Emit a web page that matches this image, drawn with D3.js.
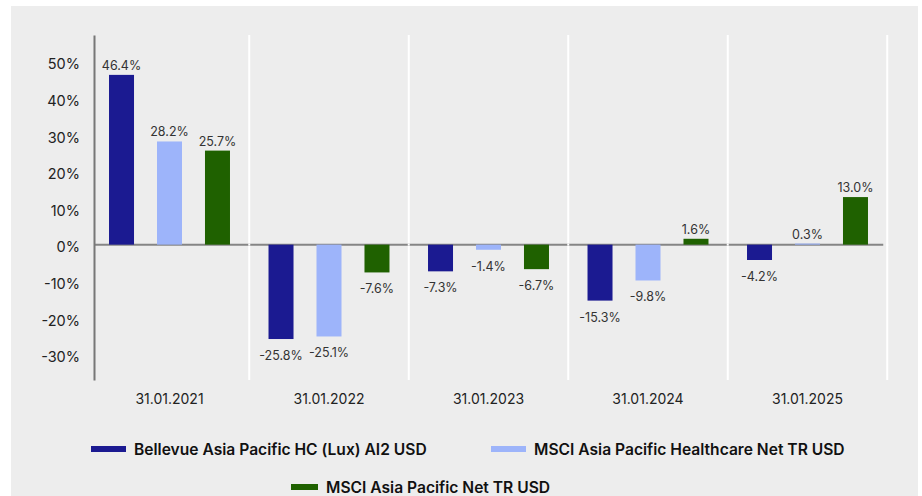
<!DOCTYPE html>
<html lang="en">
<head>
    <meta charset="UTF-8">
    <script src="https://cdn.jsdelivr.net/npm/d3@7"></script>
    <title>Annual performance</title>
    <style>
        body { margin: 0; background: #fff; }
        svg { display: block; font-family: Inter, "Noto Sans", sans-serif; }
    </style>
</head>
<body>
<div id="chart"></div>
<script>
    // categories and series
    const years = ["31.01.2021", "31.01.2022", "31.01.2023", "31.01.2024", "31.01.2025"]
    const seriesNames = ["Bellevue Asia Pacific HC (Lux) AI2 USD", "MSCI Asia Pacific Healthcare Net TR USD", "MSCI Asia Pacific Net TR USD"]
    const fund = [46.4, -25.8, -7.3, -15.3, -4.2]
    const healthcare = [28.2, -25.1, -1.4, -9.8, 0.3]
    const asiaPac = [25.7, -7.6, -6.7, 1.6, 13.0]
    const yTicks = [-30, -20, -10, 0, 10, 20, 30, 40, 50]
    const colors = ["#1b1a91", "#9db4fa", "#1f6100"]

    const W = 922, H = 496
    const svg = d3.select("#chart").append("svg").attr("width", W).attr("height", H)

    // grey panel
    svg.append("rect").attr("x", 11).attr("y", 6).attr("width", 907).attr("height", H - 6).attr("fill", "#ededed")

    const values = [fund, healthcare, asiaPac]
    let rows = []
    years.forEach((yr, i) => {
        seriesNames.forEach((s, j) => rows.push({year: yr, series: s, idx: j, value: values[j][i]}))
    })

    const x0 = d3.scaleBand().domain(years).range([89.75, 887.25])
    const x1 = d3.scaleBand().domain(seriesNames).range([-72, 72]).paddingInner(0.479).paddingOuter(0.24)
    const y = d3.scaleLinear().domain([-37, 57.3]).range([380, 35])

    // white separators between years
    svg.append("g").selectAll("line").data(years).join("line")
        .attr("x1", d => x0(d) + x0.bandwidth()).attr("x2", d => x0(d) + x0.bandwidth())
        .attr("y1", y.range()[1]).attr("y2", y.range()[0])
        .attr("stroke", "#fff").attr("stroke-width", 2)

    // zero line
    svg.append("line").attr("x1", 94).attr("x2", x0.range()[1] - 4)
        .attr("y1", y(0)).attr("y2", y(0)).attr("stroke", "#858585").attr("stroke-width", 2)

    // separators over zero line
    svg.append("g").selectAll("line").data(years).join("line")
        .attr("x1", d => x0(d) + x0.bandwidth()).attr("x2", d => x0(d) + x0.bandwidth())
        .attr("y1", y(0) - 1).attr("y2", y(0) + 1)
        .attr("stroke", "#fff").attr("stroke-width", 2)

    // bars
    svg.append("g").selectAll("rect").data(rows).join("rect")
        .attr("x", d => x0(d.year) + x0.bandwidth() / 2 + x1(d.series))
        .attr("width", x1.bandwidth())
        .attr("y", d => y(Math.max(0, d.value)))
        .attr("height", d => Math.abs(y(d.value) - y(0)))
        .attr("fill", d => colors[d.idx])

    // value labels
    svg.append("g").selectAll("text").data(rows).join("text")
        .attr("x", d => x0(d.year) + x0.bandwidth() / 2 + x1(d.series) + x1.bandwidth() / 2)
        .attr("y", d => d.value >= 0 ? y(d.value) - 5 : y(d.value) + 21)
        .attr("text-anchor", "middle")
        .attr("font-size", 12.5)
        .attr("fill", "#333")
        .text(d => d.value.toFixed(1) + "%")

    // y axis
    const yAxis = svg.append("g").attr("transform", "translate(94,0)")
        .call(d3.axisLeft(y).tickValues(yTicks).tickSize(0).tickPadding(14).tickFormat(d => d + "%"))
    yAxis.select(".domain").attr("stroke", "#777").attr("stroke-width", 2)
    yAxis.selectAll("text").attr("font-size", 14.5).attr("fill", "#222").attr("dy", "0.5em")
        .attr("font-family", "Inter, sans-serif")

    // x axis labels
    const xAxis = svg.append("g").attr("transform", "translate(0,380)")
        .call(d3.axisBottom(x0).tickSize(0).tickPadding(14))
    xAxis.select(".domain").remove()
    xAxis.selectAll("text").attr("font-size", 14).attr("fill", "#222").attr("font-family", "Inter, sans-serif")

    // legend
    const legendPos = [{x: 91, y: 449, w: 35}, {x: 491, y: 449, w: 35}, {x: 291, y: 487, w: 27}]
    const legend = svg.append("g").selectAll("g").data(seriesNames).join("g")
        .attr("transform", (d, i) => "translate(" + legendPos[i].x + "," + legendPos[i].y + ")")
    legend.append("rect").attr("x", 0).attr("y", -3).attr("height", 6)
        .attr("width", (d, i) => legendPos[i].w).attr("fill", (d, i) => colors[i])
    legend.append("text").attr("x", (d, i) => legendPos[i].w + 8).attr("dy", "0.36em")
        .attr("font-size", 15.6).attr("font-weight", 600).attr("fill", "#111")
        .text(d => d)
</script>
</body>
</html>
